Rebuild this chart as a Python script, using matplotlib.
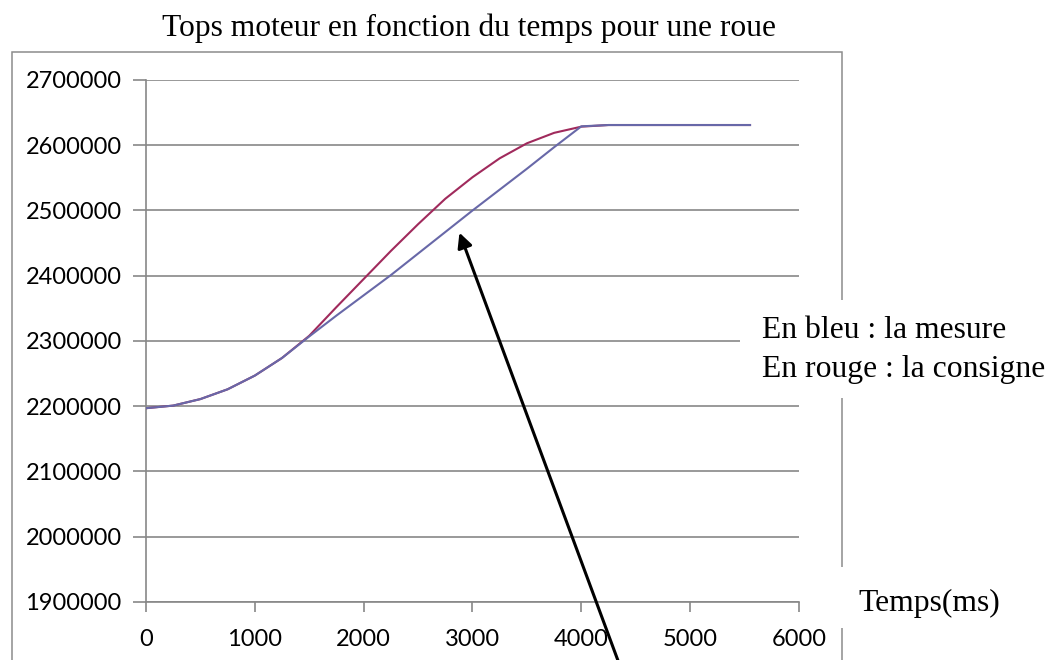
import matplotlib
matplotlib.use("Agg")
import matplotlib.pyplot as plt
from matplotlib.patches import Rectangle

# Data (ms -> motor ticks)
temps = [0, 250, 500, 750, 1000, 1250, 1500, 1750, 2000, 2250, 2500, 2750,
         3000, 3250, 3500, 3750, 4000, 4250, 4500, 4750, 5000, 5250, 5500, 5550]
consigne = [2197000, 2201000, 2211000, 2226000, 2247000, 2274000, 2308000, 2352000,
            2395000, 2438000, 2479000, 2518000, 2551000, 2580000, 2603000, 2619000,
            2628500, 2631000, 2631000, 2631000, 2631000, 2631000, 2631000, 2631000]
mesure = [2197000, 2201000, 2211000, 2226000, 2247000, 2274000, 2307000, 2339000,
          2370000, 2401000, 2434000, 2467000, 2500000, 2532000, 2564000, 2597000,
          2629000, 2631000, 2631000, 2631000, 2631000, 2631000, 2631000, 2631000]

x_ticks = [0, 1000, 2000, 3000, 4000, 5000, 6000]
y_ticks = [1900000, 2000000, 2100000, 2200000, 2300000, 2400000, 2500000, 2600000, 2700000]

W, H = 1058, 660
def fx(px):
    return px / W
def fy(py):
    return 1 - py / H

grey = "#878787"
serif = "Liberation Serif"

fig = plt.figure(figsize=(W / 100, H / 100), dpi=100)
ax = fig.add_axes([fx(146), fy(602), fx(799) - fx(146), fy(80) - fy(602)])

ax.plot(temps, consigne, color="#a02a5c", lw=1.5, zorder=3)
ax.plot(temps, mesure, color="#6868a8", lw=1.5, zorder=4)

ax.set_xlim(0, 6000)
ax.set_ylim(1900000, 2700000)
ax.set_xticks(x_ticks)
ax.set_yticks(y_ticks)
ax.set_xticklabels([str(v) for v in x_ticks])
ax.set_yticklabels([str(v) for v in y_ticks])

for s in ["top", "right"]:
    ax.spines[s].set_visible(False)
for s in ["left", "bottom"]:
    ax.spines[s].set_color(grey)
    ax.spines[s].set_linewidth(1.2)

ax.yaxis.grid(True, color=grey, lw=1.2)
ax.set_axisbelow(True)
ax.tick_params(axis="y", length=9.5, width=1.2, color=grey, pad=8,
               labelsize=17, labelcolor="black")
ax.tick_params(axis="x", length=7.5, width=1.2, color=grey, pad=12,
               labelsize=17, labelcolor="black")
for lab in ax.get_xticklabels() + ax.get_yticklabels():
    lab.set_fontfamily("Lato")

# outer chart frame
fig.add_artist(Rectangle((fx(12), fy(760)), fx(842) - fx(12), fy(52) - fy(760),
                         transform=fig.transFigure, fill=False, ec="#8c8c8c",
                         lw=1.1, zorder=1))

fig.text(fx(469), fy(28), "Tops moteur en fonction du temps pour une roue",
         family=serif, fontsize=22.7, ha="center", va="center")

# white boxes behind the side texts
fig.add_artist(Rectangle((fx(740), fy(398)), fx(1058) - fx(740), fy(300) - fy(398),
                         transform=fig.transFigure, fc="white", ec="none", zorder=2))
fig.add_artist(Rectangle((fx(830), fy(628)), fx(1010) - fx(830), fy(567) - fy(628),
                         transform=fig.transFigure, fc="white", ec="none", zorder=2))

fig.text(fx(762), fy(331), "En bleu : la mesure", family=serif, fontsize=22.8,
         ha="left", va="center", zorder=3)
fig.text(fx(762), fy(370), "En rouge : la consigne", family=serif, fontsize=22.8,
         ha="left", va="center", zorder=3)
fig.text(fx(858), fy(603), "Temps(ms)", family=serif, fontsize=22.8,
         ha="left", va="center", zorder=3)

# arrow pointing at the measured curve
ax.annotate("", xy=(2880, 2466000), xycoords="data",
            xytext=(fx(640), fy(720)), textcoords="figure fraction",
            arrowprops=dict(arrowstyle="-|>", color="black", lw=2.2,
                            mutation_scale=22, shrinkA=0, shrinkB=0),
            annotation_clip=False, zorder=6)

fig.savefig("out.png", dpi=100)
